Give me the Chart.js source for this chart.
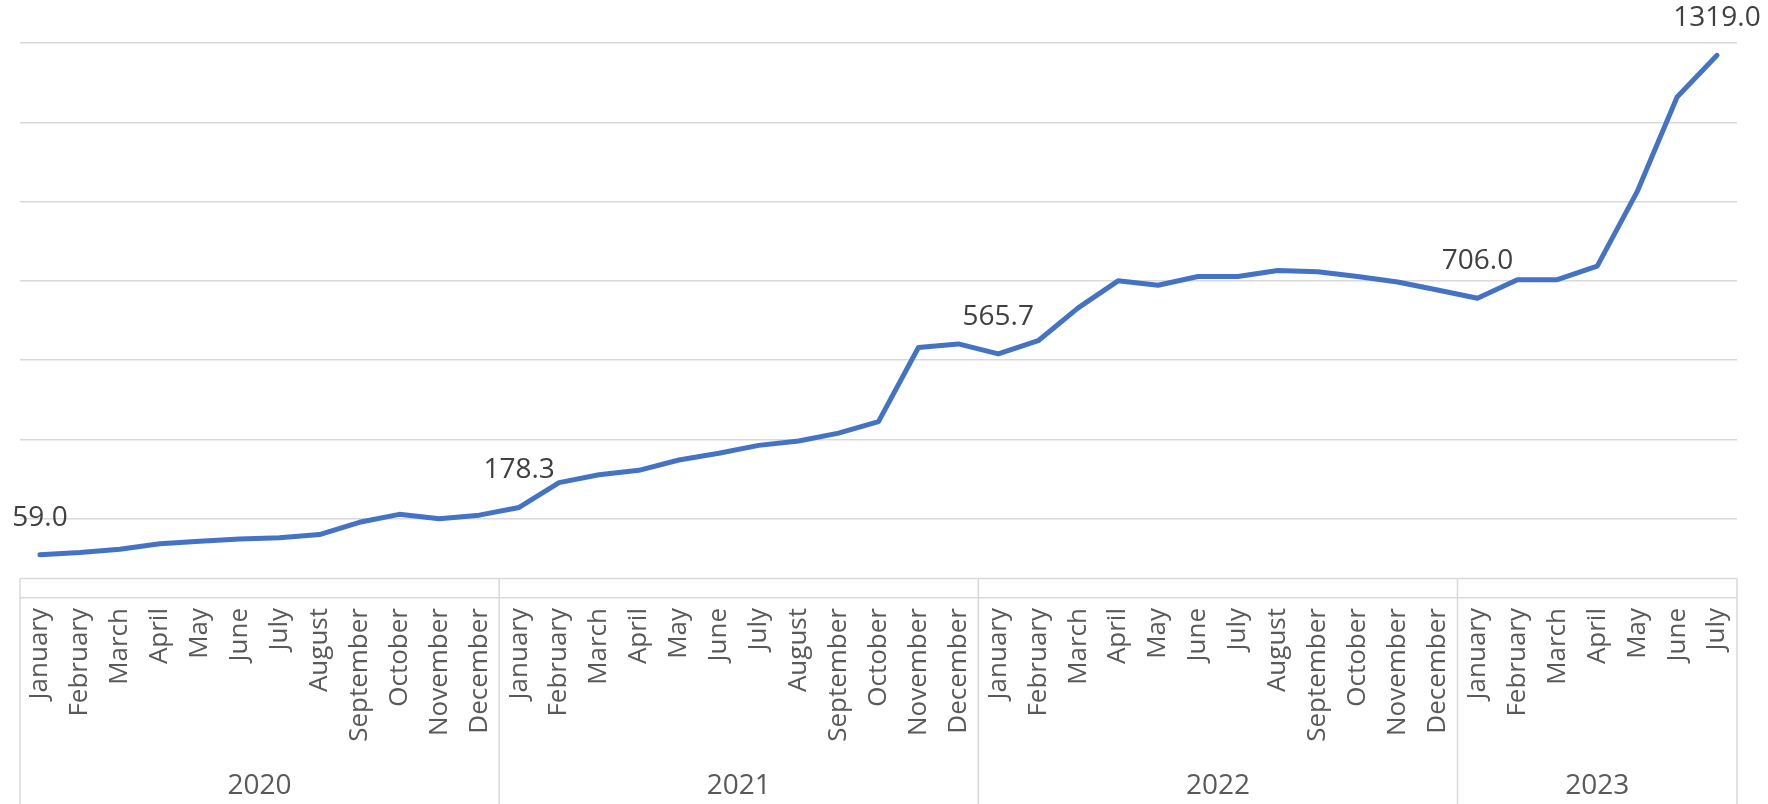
<!DOCTYPE html>
<html>
<head>
  <script src="https://cdn.jsdelivr.net/npm/chart.js@4/dist/chart.umd.min.js"></script>
  <style>
    html, body { margin: 0; padding: 0; background: #fff; }
    #wrap { width: 1768px; height: 804px; }
  </style>
</head>
<body>
<div id="wrap">
<canvas id="line-chart" width="1768" height="804"></canvas>
</div>
<script>
  var years = ['2020', '2021', '2022', '2023'];
  var monthsPerYear = [12, 12, 12, 7];
  var monthNames = ['January', 'February', 'March', 'April', 'May', 'June', 'July',
    'August', 'September', 'October', 'November', 'December'];

  var values2020 = [59.0, 64.7, 73, 87, 93, 99, 102, 110, 141, 161, 150, 159];
  var values2021 = [178.3, 241, 261, 272, 298, 315, 335, 346, 366, 395, 582, 591];
  var values2022 = [565.7, 599, 682, 750, 739, 761, 761, 776, 773, 761, 747, 727];
  var values2023 = [706.0, 753, 753, 787, 975, 1214, 1319.0];

  // points that carry a value label
  var labelled = [0, 12, 24, 36, 42];
  var gridValues = [-50, 150, 350, 550, 750, 950, 1150, 1350];

  var labels = [];
  monthsPerYear.forEach(function (n) {
    for (var i = 0; i < n; i++) labels.push(monthNames[i]);
  });
  var values = values2020.concat(values2021, values2022, values2023);

  var FONT = "'Open Sans', sans-serif";

  // axis line at zero, year boxes and year names under the month labels
  var yearAxis = {
    id: 'yearAxis',
    beforeDatasetsDraw: function (chart) {
      var ctx = chart.ctx, x = chart.scales.x, y = chart.scales.y;
      var area = chart.chartArea;
      var y0 = Math.round(y.getPixelForValue(0)) + 0.5;
      ctx.save();
      ctx.strokeStyle = '#d9d9d9';
      ctx.lineWidth = 1.5;
      ctx.beginPath();
      ctx.moveTo(area.left, y0);
      ctx.lineTo(area.right, y0);
      var half = (x.getPixelForValue(1) - x.getPixelForValue(0)) / 2;
      var start = 0;
      var edges = [area.left];
      monthsPerYear.forEach(function (n) {
        start += n;
        edges.push(start >= labels.length ? area.right : x.getPixelForValue(start) - half);
      });
      edges.forEach(function (ex) {
        ctx.moveTo(ex, y0);
        ctx.lineTo(ex, chart.height);
      });
      ctx.stroke();
      ctx.restore();
    },
    afterDraw: function (chart) {
      var ctx = chart.ctx, x = chart.scales.x;
      ctx.save();
      ctx.fillStyle = '#595959';
      ctx.font = '28px ' + FONT;
      ctx.textAlign = 'center';
      ctx.textBaseline = 'middle';
      var start = 0;
      years.forEach(function (yr, i) {
        var n = monthsPerYear[i];
        var cx = (x.getPixelForValue(start) + x.getPixelForValue(start + n - 1)) / 2;
        ctx.fillText(yr, cx, 786);
        start += n;
      });
      ctx.restore();
    }
  };

  var valueLabels = {
    id: 'valueLabels',
    afterDatasetsDraw: function (chart) {
      var ctx = chart.ctx;
      var meta = chart.getDatasetMeta(0);
      ctx.save();
      ctx.fillStyle = '#404040';
      ctx.font = '28px ' + FONT;
      ctx.textAlign = 'center';
      ctx.textBaseline = 'middle';
      labelled.forEach(function (i) {
        var pt = meta.data[i];
        ctx.fillText(values[i].toFixed(1), pt.x, pt.y - 37);
      });
      ctx.restore();
    }
  };

  new Chart(document.getElementById('line-chart'), {
    type: 'line',
    data: {
      labels: labels,
      datasets: [{
        data: values,
        borderColor: '#4472C4',
        borderWidth: 5,
        borderCapStyle: 'round',
        borderJoinStyle: 'round',
        pointRadius: 0,
        tension: 0,
        fill: false
      }]
    },
    options: {
      responsive: false,
      animation: false,
      layout: { padding: { left: 20, right: 31, top: 43, bottom: 0 } },
      plugins: {
        legend: { display: false },
        tooltip: { enabled: false },
        title: { display: false }
      },
      scales: {
        x: {
          offset: true,
          grid: { display: false },
          border: { display: false },
          ticks: {
            autoSkip: false,
            minRotation: 90,
            maxRotation: 90,
            padding: 2,
            color: '#595959',
            font: { family: FONT, size: 26 }
          },
          afterFit: function (axis) { axis.height = 206; }
        },
        y: {
          min: -50,
          max: 1350,
          border: { display: false },
          grid: { color: '#d9d9d9', lineWidth: 1.5, drawTicks: false },
          ticks: { display: false },
          afterBuildTicks: function (axis) {
            axis.ticks = gridValues.map(function (v) { return { value: v }; });
          },
          afterFit: function (axis) { axis.width = 0; }
        }
      }
    },
    plugins: [yearAxis, valueLabels]
  });
</script>
</body>
</html>
